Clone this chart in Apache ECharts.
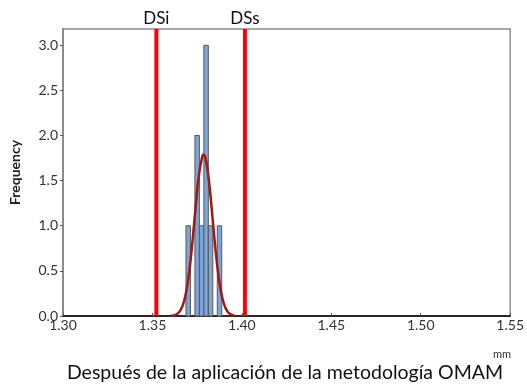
<!DOCTYPE html>
<html><head><meta charset="utf-8">
<script src="https://cdn.jsdelivr.net/npm/echarts@6/dist/echarts.min.js"></script>
<style>html,body{margin:0;padding:0;background:#fff}#c{width:527px;height:385px}</style>
</head><body><div id="c"></div>
<script>
// Histogram bins: [start, end, count]
var binStarts = [1.36875, 1.37125, 1.37375, 1.37625, 1.37875, 1.38125, 1.38375, 1.38625];
var binEnds   = [1.37125, 1.37375, 1.37625, 1.37875, 1.38125, 1.38375, 1.38625, 1.38875];
var counts    = [1, 0, 2, 1, 3, 1, 0, 1];
// Fitted curve points
var curveX = [1.360, 1.362, 1.364, 1.366, 1.368, 1.370, 1.372, 1.374, 1.376, 1.378, 1.3786, 1.380, 1.382, 1.384, 1.386, 1.388, 1.390, 1.392, 1.394, 1.396];
var curveY = [0.002, 0.007, 0.025, 0.075, 0.189, 0.408, 0.749, 1.173, 1.563, 1.777, 1.79, 1.721, 1.421, 0.999, 0.599, 0.306, 0.133, 0.049, 0.016, 0.004];
var specLimits = [1.3522, 1.4017];
var specNames = ['DSi', 'DSs'];
var yTicks = [0, 0.5, 1.0, 1.5, 2.0, 2.5, 3.0];

var FONT = 'Lato';
var chart = echarts.init(document.getElementById('c'));
var bins = binStarts.map(function (s, i) { return [s, binEnds[i], counts[i]]; });
var curve = curveX.map(function (x, i) { return [x, curveY[i]]; });
var YMAX = 3.18;

chart.setOption({
  animation: false,
  grid: { left: 63, right: 14, top: 29, bottom: 69, show: true, borderColor: '#8c8c8c', borderWidth: 1.5 },
  xAxis: {
    type: 'value', min: 1.30, max: 1.55, interval: 0.05,
    axisLine: { show: true, lineStyle: { color: '#000', width: 1.5 } },
    axisTick: { show: true, inside: true, length: 3, lineStyle: { color: '#555' } },
    axisLabel: { fontFamily: FONT, fontSize: 14, color: '#333', margin: 2, formatter: function (v) { return v.toFixed(2); } },
    splitLine: { show: false }
  },
  yAxis: {
    type: 'value', min: 0, max: YMAX,
    name: 'Frequency', nameLocation: 'middle', nameGap: 41,
    nameTextStyle: { fontFamily: FONT, fontSize: 14, fontWeight: 'bold', color: '#222' },
    axisLine: { show: true, lineStyle: { color: '#8c8c8c', width: 2 } },
    axisTick: { show: true, length: 3, lineStyle: { color: '#555' }, customValues: yTicks },
    axisLabel: { fontFamily: FONT, fontSize: 14, color: '#333', margin: 5, customValues: yTicks, formatter: function (v) { return v.toFixed(1); } },
    splitLine: { show: false }
  },
  series: [
    {
      type: 'custom', data: bins, z: 2,
      renderItem: function (params, api) {
        var a = api.coord([api.value(0), api.value(2)]);
        var b = api.coord([api.value(1), 0]);
        if (api.value(2) <= 0) return null;
        return { type: 'rect', shape: { x: a[0], y: a[1], width: b[0] - a[0], height: b[1] - a[1] },
          style: { fill: '#7da5d8', stroke: '#5a5a5a', lineWidth: 1 } };
      }
    },
    {
      type: 'line', data: curve, smooth: true, symbol: 'none', z: 3,
      lineStyle: { color: '#a01818', width: 2.5 }
    },
    {
      type: 'line', data: [[specLimits[0], 0], [specLimits[0], YMAX]], symbol: 'none', z: 4,
      lineStyle: { color: '#ff0000', width: 4 }
    },
    {
      type: 'line', data: [[specLimits[1], 0], [specLimits[1], YMAX]], symbol: 'none', z: 4,
      lineStyle: { color: '#ff0000', width: 4 }
    }
  ]
});

var p0 = chart.convertToPixel({ gridIndex: 0 }, [specLimits[0], YMAX]);
var p1 = chart.convertToPixel({ gridIndex: 0 }, [specLimits[1], YMAX]);
chart.setOption({
  graphic: [
    { type: 'text', x: p0[0], y: p0[1] - 2, style: { text: specNames[0], fontFamily: FONT, fontSize: 17, fill: '#111', align: 'center', verticalAlign: 'bottom' } },
    { type: 'text', x: p1[0], y: p1[1] - 2, style: { text: specNames[1], fontFamily: FONT, fontSize: 17, fill: '#111', align: 'center', verticalAlign: 'bottom' } },
    { type: 'text', x: 502, y: 354, style: { text: 'mm', fontFamily: FONT, fontSize: 11, fill: '#333', align: 'center', verticalAlign: 'middle' } },
    { type: 'text', x: 285, y: 373, style: { text: 'Después de la aplicación de la metodología OMAM', fontFamily: FONT, fontSize: 19.5, fill: '#111', align: 'center', verticalAlign: 'middle' } }
  ]
});
</script></body></html>
